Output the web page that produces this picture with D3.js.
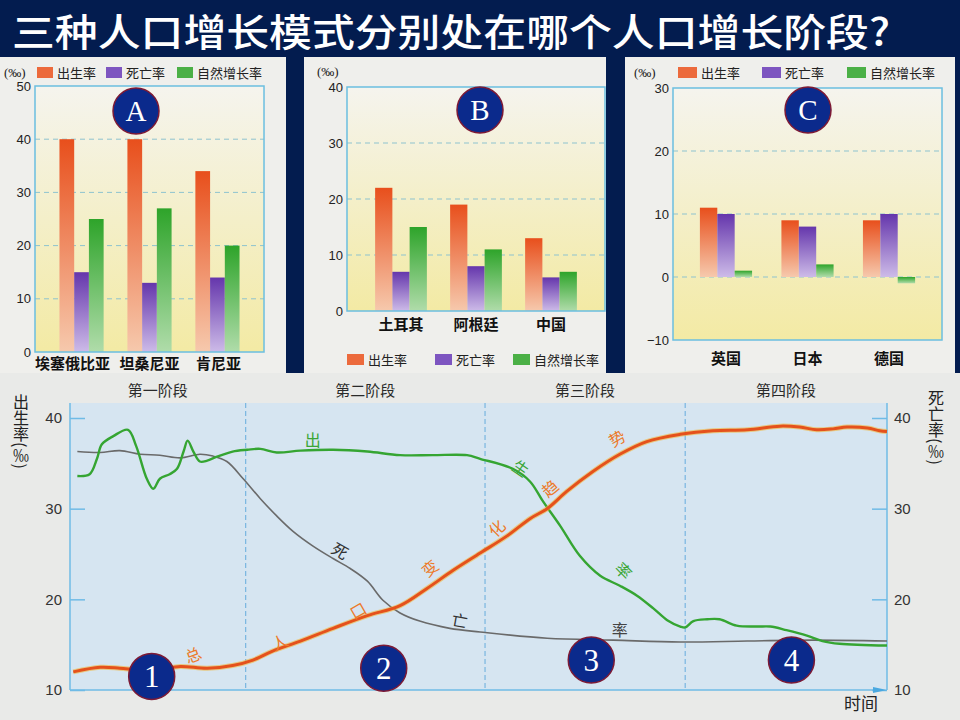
<!DOCTYPE html>
<html><head><meta charset="utf-8">
<script src="https://cdn.jsdelivr.net/npm/d3@7"></script>
<style>body{margin:0;background:#031c4f;} svg{display:block;}</style>
</head><body><svg id="c" width="960" height="720"></svg>
<script>
// ---------------- DATA ----------------
const TITLE = "三种人口增长模式分别处在哪个人口增长阶段?";
const seriesNames = ["出生率", "死亡率", "自然增长率"];

const countriesA = ["埃塞俄比亚", "坦桑尼亚", "肯尼亚"];
const birthA = [40, 40, 34];
const deathA = [15, 13, 14];
const growthA = [25, 27, 20];
const ticksA = [0, 10, 20, 30, 40, 50];

const countriesB = ["土耳其", "阿根廷", "中国"];
const birthB = [22, 19, 13];
const deathB = [7, 8, 6];
const growthB = [15, 11, 7];
const ticksB = [0, 10, 20, 30, 40];

const countriesC = ["英国", "日本", "德国"];
const birthC = [11, 9, 9];
const deathC = [10, 8, 10];
const growthC = [1, 2, -1];
const ticksC = [-10, 0, 10, 20, 30];

const panelLetters = ["A", "B", "C"];

const stageNames = ["第一阶段", "第二阶段", "第三阶段", "第四阶段"];
const stageBounds = [0, 21.5, 50.8, 75.3, 100];
const rateTicks = [10, 20, 30, 40];
const leftTitle = "出生率(‰)";
const rightTitle = "死亡率(‰)";
const stageNumbers = ["1", "2", "3", "4"];
const stageNumberT = [10.0, 38.4, 63.8, 88.3];
const stageNumberV = [11.5, 12.4, 13.3, 13.3];

const birthT = [0.9, 2.4, 3.3, 3.9, 5.3, 7.1, 8.1, 9.4, 10.2, 11.0, 12.2, 13.1, 13.9, 14.4, 15.1, 15.9, 16.8, 17.9, 19.9, 21.7, 23.3, 25.3, 28.2, 32.2, 36.4, 40.4, 44.4, 48.6, 50.2, 54.2, 56.3, 57.9, 60.0, 62.4, 64.9, 67.3, 69.4, 71.4, 73.1, 74.7, 75.3, 76.3, 78.0, 79.5, 81.6, 84.1, 85.7, 87.7, 90.2, 92.1, 94.2, 100];
const birthV = [33.6, 33.8, 35.5, 37.1, 38.0, 38.7, 36.9, 33.3, 32.2, 33.3, 33.8, 34.4, 36.3, 37.5, 36.3, 35.2, 35.3, 35.7, 36.3, 36.5, 36.6, 36.2, 36.4, 36.5, 36.3, 35.9, 35.9, 35.9, 35.5, 34.4, 33.0, 30.8, 28.1, 24.8, 22.6, 21.5, 20.4, 19.0, 17.7, 17.0, 16.9, 17.6, 17.8, 17.8, 17.1, 17.0, 17.0, 16.6, 16.0, 15.4, 15.1, 14.9];

const deathT = [0.9, 3.7, 6.1, 8.6, 11.0, 13.5, 15.9, 17.5, 19.2, 21.2, 23.3, 25.3, 27.3, 29.7, 32.2, 34.3, 36.4, 38.3, 40.4, 42.8, 46.5, 50.2, 58.4, 66.5, 74.7, 82.9, 90.9, 100];
const deathV = [36.3, 36.2, 36.4, 36.0, 35.9, 35.6, 36.0, 35.8, 35.2, 33.3, 31.1, 29.2, 27.5, 25.9, 24.5, 23.4, 22.0, 19.9, 18.5, 17.6, 16.8, 16.4, 15.7, 15.5, 15.3, 15.4, 15.5, 15.4];

const trendT = [0.4, 3.7, 6.1, 8.6, 11.0, 13.5, 16.8, 19.9, 22.4, 24.8, 28.2, 32.2, 36.4, 40.4, 43.7, 46.9, 50.2, 53.5, 56.3, 58.4, 60.8, 64.0, 67.3, 70.6, 74.7, 78.7, 82.9, 86.9, 89.3, 91.4, 93.4, 95.1, 97.6, 99.1, 100];
const trendV = [12.0, 12.5, 12.4, 12.2, 12.3, 12.6, 12.4, 12.7, 13.3, 14.3, 15.4, 16.8, 18.2, 19.3, 21.2, 23.2, 25.1, 27.0, 28.9, 30.0, 31.9, 34.1, 36.0, 37.4, 38.2, 38.6, 38.7, 39.1, 39.0, 38.7, 38.8, 39.0, 38.9, 38.6, 38.5];

// curve annotation characters (time, rate)
const curveCharText = ["出", "生", "率", "死", "亡", "率", "总", "人", "口", "变", "化", "趋", "势"];
const curveCharT = [29.7, 55.1, 67.7, 33.0, 47.7, 67.3, 15.1, 25.7, 35.3, 44.1, 52.3, 58.8, 67.0];
const curveCharV = [37.5, 34.4, 23.1, 25.3, 17.6, 16.6, 13.8, 15.2, 18.7, 23.4, 27.8, 32.2, 37.7];

// ---------------- DRAWING ----------------
const svg = d3.select("#c");
const defs = svg.append("defs");
const CJK = "'Noto Sans CJK SC', 'Noto Sans', sans-serif";

svg.append("rect").attr("width", 960).attr("height", 720).attr("fill", "#031c4f");

// title
svg.append("text").attr("x", 12).attr("y", 46)
  .attr("textLength", 878).attr("lengthAdjust", "spacingAndGlyphs")
  .attr("font-family", CJK).attr("font-size", 38).attr("font-weight", 500)
  .attr("fill", "#ffffff").text(TITLE);

// gradients
const seriesGrad = [
  ["gOr", "#e84f1c", "#f6c9ad"],
  ["gPu", "#6536ac", "#cdbbe8"],
  ["gGr", "#2ea42a", "#b0dcaa"]
];
seriesGrad.forEach(([id, c0, c1]) => {
  const lg = defs.append("linearGradient").attr("id", id).attr("x1", 0).attr("y1", 0).attr("x2", 0).attr("y2", 1);
  lg.append("stop").attr("offset", "0%").attr("stop-color", c0);
  lg.append("stop").attr("offset", "100%").attr("stop-color", c1);
});
const bgGrad = defs.append("linearGradient").attr("id", "gBg").attr("x1", 0).attr("y1", 0).attr("x2", 0).attr("y2", 1);
bgGrad.append("stop").attr("offset", "0%").attr("stop-color", "#f5f4ee");
bgGrad.append("stop").attr("offset", "100%").attr("stop-color", "#f3eaa4");
const swatchColors = ["#ec6a3c", "#7d55c0", "#4bb046"];

function barPanel(cfg) {
  const g = svg.append("g");
  const [px0, py0, px1, py1] = cfg.panel;
  const [l, t, r, b] = cfg.plot;
  g.append("rect").attr("x", px0).attr("y", py0).attr("width", px1 - px0).attr("height", py1 - py0).attr("fill", "#efefec");
  g.append("rect").attr("x", l).attr("y", t).attr("width", r - l).attr("height", b - t).attr("fill", "url(#gBg)");

  const y = d3.scaleLinear().domain(cfg.domain).range([b, t]);
  const x = d3.scaleBand().domain(cfg.cats).range([l, r]).paddingInner(cfg.pi).paddingOuter(cfg.po);
  const xs = d3.scaleBand().domain(seriesNames).range([0, x.bandwidth()]).padding(0);

  g.selectAll(".grid").data(cfg.ticks.filter(v => v !== cfg.domain[0] && v !== cfg.domain[1]))
    .join("line").attr("x1", l).attr("x2", r).attr("y1", d => y(d)).attr("y2", d => y(d))
    .attr("stroke", "#8ec3cf").attr("stroke-width", 1).attr("stroke-dasharray", "5,4");

  cfg.cats.forEach((c, i) => {
    cfg.series.forEach((arr, s) => {
      const v = arr[i];
      g.append("rect").attr("x", x(c) + xs(seriesNames[s])).attr("width", xs.bandwidth())
        .attr("y", y(Math.max(0, v))).attr("height", Math.abs(y(v) - y(0)))
        .attr("fill", "url(#" + seriesGrad[s][0] + ")");
    });
  });

  g.append("rect").attr("x", l).attr("y", t).attr("width", r - l).attr("height", b - t)
    .attr("fill", "none").attr("stroke", "#6bbfe0").attr("stroke-width", 1.5);

  const ax = g.append("g").attr("transform", `translate(${l},0)`)
    .call(d3.axisLeft(y).tickValues(cfg.ticks).tickSize(0).tickPadding(4));
  ax.select(".domain").remove();
  ax.selectAll("text").attr("font-family", "'Liberation Sans', Arial, sans-serif").attr("font-size", 13).attr("fill", "#222");

  g.append("text").attr("x", cfg.unit[0]).attr("y", cfg.unit[1]).attr("font-family", "'Liberation Serif', serif")
    .attr("font-size", 13).attr("fill", "#222").text("(‰)");

  g.selectAll(".cat").data(cfg.cats).join("text")
    .attr("x", (d, i) => x(d) + x.bandwidth() / 2 + (cfg.catShift ? cfg.catShift[i] : 0))
    .attr("y", cfg.catY).attr("text-anchor", "middle")
    .attr("font-family", CJK).attr("font-weight", 700).attr("font-size", 15).attr("fill", "#111").text(d => d);

  cfg.legend.forEach((lx, s) => {
    g.append("rect").attr("x", lx).attr("y", cfg.legendY).attr("width", cfg.swW).attr("height", cfg.swH).attr("fill", swatchColors[s]);
    g.append("text").attr("x", lx + cfg.swW + 4).attr("y", cfg.legendY + cfg.swH).attr("font-family", CJK)
      .attr("font-size", 13).attr("fill", "#222").text(seriesNames[s]);
  });

  g.append("circle").attr("cx", cfg.badge[0]).attr("cy", cfg.badge[1]).attr("r", 23)
    .attr("fill", "#0b2a8c").attr("stroke", "#7d1a35").attr("stroke-width", 1.5);
  g.append("text").attr("x", cfg.badge[0]).attr("y", cfg.badge[1] + 10).attr("text-anchor", "middle")
    .attr("font-family", "'Liberation Serif', serif").attr("font-size", 29).attr("fill", "#fff").text(cfg.letter);
}

barPanel({
  panel: [0, 57, 286, 373], plot: [35, 86, 264, 352], domain: [0, 50], ticks: ticksA,
  cats: countriesA, series: [birthA, deathA, growthA], pi: 0.35, po: 0.36,
  unit: [4, 77], catY: 369, catShift: [-9, 0, 1],
  legend: [37, 106, 177], legendY: 67, swW: 16, swH: 11,
  badge: [136, 111], letter: panelLetters[0]
});
barPanel({
  panel: [304, 57, 606, 373], plot: [347, 87, 605, 311], domain: [0, 40], ticks: ticksB,
  cats: countriesB, series: [birthB, deathB, growthB], pi: 0.31, po: 0.375,
  unit: [317, 76], catY: 330,
  legend: [347, 435, 513], legendY: 354, swW: 17, swH: 11,
  badge: [480, 110], letter: panelLetters[1]
});
barPanel({
  panel: [625, 57, 955, 373], plot: [673, 88, 942, 340], domain: [-10, 30], ticks: ticksC,
  cats: countriesC, series: [birthC, deathC, growthC], pi: 0.36, po: 0.33,
  unit: [634, 77], catY: 364,
  legend: [678, 762, 847], legendY: 67, swW: 19, swH: 11,
  badge: [808, 110], letter: panelLetters[2]
});

// ---------------- BOTTOM LINE CHART ----------------
const bg = svg.append("g");
const L = 70, R = 887, T = 403, B = 690;
bg.append("rect").attr("x", 0).attr("y", 373).attr("width", 960).attr("height", 347).attr("fill", "#e9eae8");
bg.append("rect").attr("x", L).attr("y", T).attr("width", R - L).attr("height", B - T).attr("fill", "#d6e5f1");

const x = d3.scaleLinear().domain([0, 100]).range([L, R]);
const y = d3.scaleLinear().domain([10, 40]).range([B, 418]);

bg.selectAll(".sep").data(stageBounds.slice(1, -1)).join("line")
  .attr("x1", d => x(d)).attr("x2", d => x(d)).attr("y1", T).attr("y2", B)
  .attr("stroke", "#79b6e0").attr("stroke-width", 1.2).attr("stroke-dasharray", "5,3");

bg.selectAll(".stage").data(stageNames).join("text")
  .attr("x", (d, i) => (x(stageBounds[i]) + x(stageBounds[i + 1])) / 2).attr("y", 396)
  .attr("text-anchor", "middle").attr("font-family", CJK).attr("font-size", 15).attr("fill", "#2a2a2a").text(d => d);

const axL = bg.append("g").attr("transform", `translate(${L},0)`)
  .call(d3.axisLeft(y).tickValues(rateTicks).tickSizeInner(-15).tickSizeOuter(0).tickPadding(8));
const axR = bg.append("g").attr("transform", `translate(${R},0)`)
  .call(d3.axisRight(y).tickValues(rateTicks).tickSizeInner(-15).tickSizeOuter(0).tickPadding(7));
[axL, axR].forEach(a => {
  a.select(".domain").remove();
  a.selectAll("line").attr("stroke", "#6fbbe6").attr("stroke-width", 1.5);
  a.selectAll("text").attr("font-family", "'Liberation Sans', Arial, sans-serif").attr("font-size", 15).attr("fill", "#333");
});
bg.append("line").attr("x1", L).attr("x2", L).attr("y1", T).attr("y2", B).attr("stroke", "#6fbbe6").attr("stroke-width", 1.5);
bg.append("line").attr("x1", R).attr("x2", R).attr("y1", T).attr("y2", B).attr("stroke", "#6fbbe6").attr("stroke-width", 1.5);
bg.append("line").attr("x1", L).attr("x2", R - 6).attr("y1", B).attr("y2", B).attr("stroke", "#6fbbe6").attr("stroke-width", 1.5);
bg.append("path").attr("d", `M${R - 14},${B - 3}L${R},${B}L${R - 14},${B + 3}Z`).attr("fill", "#4aa8e0");

// vertical axis titles
[[21, 394, leftTitle], [936, 390, rightTitle]].forEach(([cx, top, txt]) => {
  bg.append("text").attr("x", cx).attr("y", top)
    .style("writing-mode", "vertical-rl").attr("text-anchor", "start")
    .attr("font-family", CJK).attr("font-size", 16).attr("fill", "#222").text(txt);
});
bg.append("text").attr("x", 861).attr("y", 710).attr("text-anchor", "middle").attr("font-family", CJK)
  .attr("font-size", 17).attr("fill", "#222").text("时间");

// curves
const line = d3.line().x(d => x(d[0])).y(d => y(d[1])).curve(d3.curveCatmullRom.alpha(0.5));
const zip = (a, b) => a.map((v, i) => [v, b[i]]);
bg.append("path").attr("d", line(zip(deathT, deathV))).attr("fill", "none").attr("stroke", "#6a6a6a").attr("stroke-width", 1.6);
bg.append("path").attr("d", line(zip(birthT, birthV))).attr("fill", "none").attr("stroke", "#35a532").attr("stroke-width", 2.4);
bg.append("path").attr("d", line(zip(trendT, trendV))).attr("fill", "none").attr("stroke", "#f2b53a").attr("stroke-width", 5).attr("opacity", 0.6);
bg.append("path").attr("d", line(zip(trendT, trendV))).attr("fill", "none").attr("stroke", "#e5511c").attr("stroke-width", 3);

const charColor = ["#3aa536", "#3aa536", "#3aa536", "#333", "#333", "#444", "#ec7a2a", "#ec7a2a", "#ec7a2a", "#ec7a2a", "#ec7a2a", "#ec7a2a", "#ec7a2a"];
const charRot = [0, 35, 45, 30, 10, 0, -20, -25, -30, -40, -45, -40, -30];
curveCharText.forEach((ch, i) => {
  bg.append("text").attr("transform", `translate(${x(curveCharT[i])},${y(curveCharV[i])}) rotate(${charRot[i]})`)
    .attr("text-anchor", "middle").attr("dy", "0.35em").attr("font-family", CJK).attr("font-size", 16)
    .attr("fill", charColor[i]).text(ch);
});

stageNumbers.forEach((n, i) => {
  const cx = x(stageNumberT[i]), cy = y(stageNumberV[i]);
  bg.append("circle").attr("cx", cx).attr("cy", cy).attr("r", 23).attr("fill", "#0b2a8c").attr("stroke", "#7d1a35").attr("stroke-width", 1.5);
  bg.append("text").attr("x", cx).attr("y", cy + 11).attr("text-anchor", "middle")
    .attr("font-family", "'Liberation Serif', serif").attr("font-size", 31).attr("fill", "#fff").text(n);
});
</script></body></html>
